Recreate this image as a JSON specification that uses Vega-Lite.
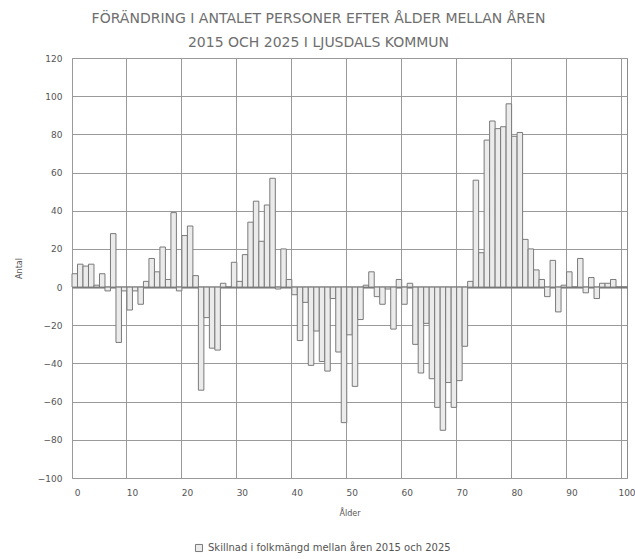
{
  "$schema": "https://vega.github.io/schema/vega-lite/v6.json",
  "width": 555,
  "height": 420,
  "autosize": {"type": "none"},
  "padding": {"left": 72, "top": 58, "right": 8, "bottom": 81},
  "background": "white",
  "config": {"view": {"stroke": "#8c8c8c", "strokeWidth": 1}, "font": "DejaVu Sans"},
  "title": {
    "text": ["FÖRÄNDRING I ANTALET PERSONER EFTER ÅLDER MELLAN ÅREN", "2015 OCH 2025 I LJUSDALS KOMMUN"],
    "font": "DejaVu Sans",
    "fontSize": 14,
    "fontWeight": "normal",
    "color": "#6e6e6e",
    "anchor": "middle",
    "frame": "group",
    "dx": -31,
    "offset": 4,
    "lineHeight": 24
  },
  "data": {
    "values": [
      {"alder": 0, "antal": 7}, {"alder": 1, "antal": 12}, {"alder": 2, "antal": 11}, {"alder": 3, "antal": 12},
      {"alder": 4, "antal": 1}, {"alder": 5, "antal": 7}, {"alder": 6, "antal": -2}, {"alder": 7, "antal": 28},
      {"alder": 8, "antal": -29}, {"alder": 9, "antal": -2}, {"alder": 10, "antal": -12}, {"alder": 11, "antal": -2},
      {"alder": 12, "antal": -9}, {"alder": 13, "antal": 3}, {"alder": 14, "antal": 15}, {"alder": 15, "antal": 8},
      {"alder": 16, "antal": 21}, {"alder": 17, "antal": 4}, {"alder": 18, "antal": 39}, {"alder": 19, "antal": -2},
      {"alder": 20, "antal": 27}, {"alder": 21, "antal": 32}, {"alder": 22, "antal": 6}, {"alder": 23, "antal": -54},
      {"alder": 24, "antal": -16}, {"alder": 25, "antal": -32}, {"alder": 26, "antal": -33}, {"alder": 27, "antal": 2},
      {"alder": 28, "antal": 0}, {"alder": 29, "antal": 13}, {"alder": 30, "antal": 3}, {"alder": 31, "antal": 17},
      {"alder": 32, "antal": 34}, {"alder": 33, "antal": 45}, {"alder": 34, "antal": 24}, {"alder": 35, "antal": 43},
      {"alder": 36, "antal": 57}, {"alder": 37, "antal": -1}, {"alder": 38, "antal": 20}, {"alder": 39, "antal": 4},
      {"alder": 40, "antal": -4}, {"alder": 41, "antal": -28}, {"alder": 42, "antal": -8}, {"alder": 43, "antal": -41},
      {"alder": 44, "antal": -23}, {"alder": 45, "antal": -39}, {"alder": 46, "antal": -44}, {"alder": 47, "antal": -6},
      {"alder": 48, "antal": -34}, {"alder": 49, "antal": -71}, {"alder": 50, "antal": -25}, {"alder": 51, "antal": -52},
      {"alder": 52, "antal": -17}, {"alder": 53, "antal": 1}, {"alder": 54, "antal": 8}, {"alder": 55, "antal": -5},
      {"alder": 56, "antal": -9}, {"alder": 57, "antal": -1}, {"alder": 58, "antal": -22}, {"alder": 59, "antal": 4},
      {"alder": 60, "antal": -9}, {"alder": 61, "antal": 2}, {"alder": 62, "antal": -30}, {"alder": 63, "antal": -45},
      {"alder": 64, "antal": -19}, {"alder": 65, "antal": -48}, {"alder": 66, "antal": -63}, {"alder": 67, "antal": -75},
      {"alder": 68, "antal": -50}, {"alder": 69, "antal": -63}, {"alder": 70, "antal": -49}, {"alder": 71, "antal": -31},
      {"alder": 72, "antal": 3}, {"alder": 73, "antal": 56}, {"alder": 74, "antal": 18}, {"alder": 75, "antal": 77},
      {"alder": 76, "antal": 87}, {"alder": 77, "antal": 83}, {"alder": 78, "antal": 84}, {"alder": 79, "antal": 96},
      {"alder": 80, "antal": 79}, {"alder": 81, "antal": 81}, {"alder": 82, "antal": 25}, {"alder": 83, "antal": 20},
      {"alder": 84, "antal": 9}, {"alder": 85, "antal": 4}, {"alder": 86, "antal": -5}, {"alder": 87, "antal": 14},
      {"alder": 88, "antal": -13}, {"alder": 89, "antal": 1}, {"alder": 90, "antal": 8}, {"alder": 91, "antal": 0},
      {"alder": 92, "antal": 15}, {"alder": 93, "antal": -3}, {"alder": 94, "antal": 5}, {"alder": 95, "antal": -6},
      {"alder": 96, "antal": 2}, {"alder": 97, "antal": 2}, {"alder": 98, "antal": 4}, {"alder": 99, "antal": 0},
      {"alder": 100, "antal": 0}
    ]
  },
  "mark": {"type": "bar", "stroke": "#7a7a7a", "strokeWidth": 1},
  "encoding": {
    "x": {
      "field": "alder",
      "type": "ordinal",
      "scale": {"paddingInner": 0, "paddingOuter": 0},
      "axis": {
        "values": [0, 10, 20, 30, 40, 50, 60, 70, 80, 90, 100],
        "bandPosition": 0,
        "labelOffset": 2.75,
        "labelAngle": 0,
        "labelPadding": 10,
        "labelFontSize": 9,
        "labelColor": "#555555",
        "labelOverlap": false,
        "ticks": false,
        "domain": false,
        "grid": true,
        "gridColor": "#9a9a9a",
        "title": "Ålder",
        "titleFontSize": 8,
        "titleFontWeight": "normal",
        "titleColor": "#555555",
        "titlePadding": 12
      }
    },
    "y": {
      "field": "antal",
      "type": "quantitative",
      "scale": {"domain": [-100, 120], "nice": false},
      "axis": {
        "values": [-100, -80, -60, -40, -20, 0, 20, 40, 60, 80, 100, 120],
        "labelPadding": 10,
        "labelFontSize": 9,
        "labelColor": "#555555",
        "labelOverlap": false,
        "labelFlush": false,
        "ticks": false,
        "domain": false,
        "grid": true,
        "gridColor": {"condition": {"test": "datum.value === 0", "value": "#707070"}, "value": "#9a9a9a"},
        "gridWidth": {"condition": {"test": "datum.value === 0", "value": 2}, "value": 1},
        "title": "Antal",
        "titleFontSize": 8,
        "titleFontWeight": "normal",
        "titleColor": "#555555",
        "titlePadding": 14
      }
    },
    "fill": {
      "datum": "Skillnad i folkmängd mellan åren 2015 och 2025",
      "scale": {"range": ["#ebebeb"]},
      "legend": {
        "title": null,
        "orient": "none",
        "legendX": 122,
        "legendY": 485,
        "symbolType": "square",
        "symbolSize": 50,
        "symbolStrokeColor": "#7a7a7a",
        "symbolStrokeWidth": 1,
        "labelFontSize": 10,
        "labelLimit": 0,
        "labelColor": "#555555"
      }
    }
  }
}
